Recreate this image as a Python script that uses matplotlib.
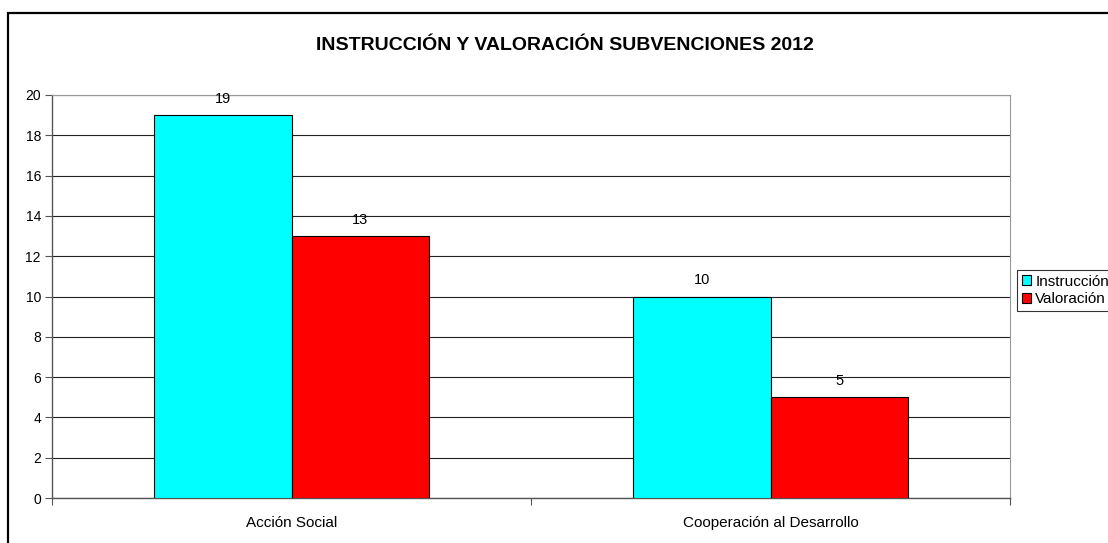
import matplotlib
matplotlib.use("Agg")
import matplotlib.pyplot as plt
import numpy as np
from matplotlib.patches import Rectangle

plt.rcParams['font.family'] = ['Liberation Sans', 'DejaVu Sans']

categories = ["Acción Social", "Cooperación al Desarrollo"]
series_names = ["Instrucción", "Valoración"]
instruccion = [19, 10]
valoracion = [13, 5]
colors = ["#00FFFF", "#FF0000"]
title = "INSTRUCCIÓN Y VALORACIÓN SUBVENCIONES 2012"

fig = plt.figure(figsize=(11.08, 5.43), dpi=100)
# outer chart frame
fig.patches.append(Rectangle((8/1108, -0.05), 1.2, 1 - 13/543 + 0.05,
                             transform=fig.transFigure, fill=False,
                             edgecolor='black', linewidth=1.6))

ax = fig.add_axes([52/1108, 1 - 498/543, (1010 - 52)/1108, (498 - 95)/543])
x = np.arange(len(categories))
w = 0.287
b1 = ax.bar(x - w/2, instruccion, w, color=colors[0], edgecolor='black', linewidth=0.8,
            label=series_names[0], zorder=3)
b2 = ax.bar(x + w/2, valoracion, w, color=colors[1], edgecolor='black', linewidth=0.8,
            label=series_names[1], zorder=3)
for bars, vals in ((b1, instruccion), (b2, valoracion)):
    for r, v in zip(bars, vals):
        ax.text(r.get_x() + r.get_width()/2, v + 0.45, str(v), ha='center', va='bottom',
                fontsize=10.5)

ax.set_xlim(-0.5, 1.5)
ax.set_ylim(0, 20)
ax.set_yticks(np.arange(0, 21, 2))
ax.set_xticks([-0.5, 0.5, 1.5])
ax.set_xticklabels([])
ax.set_xticks(x, minor=True)
ax.set_xticklabels(categories, minor=True, fontsize=11)
ax.tick_params(axis='x', which='minor', length=0, pad=13)
ax.tick_params(axis='x', which='major', length=5, color='#555555', direction='out')
ax.tick_params(axis='y', length=5, color='#555555', direction='out', labelsize=10, pad=3)
ax.yaxis.grid(True, color='#222222', linewidth=0.8, zorder=0)
ax.set_axisbelow(True)
for s in ['top', 'right']:
    ax.spines[s].set_color('#999999')
    ax.spines[s].set_linewidth(0.8)
for s in ['left', 'bottom']:
    ax.spines[s].set_color('#555555')
    ax.spines[s].set_linewidth(1.0)

fig.text(565/1108, 1 - 45/543, title, ha='center', va='center', fontsize=14,
         fontweight='bold')

leg = fig.legend(handles=[b1, b2], labels=series_names, loc='upper left',
                 bbox_to_anchor=(1017/1108, 1 - 270/543), fontsize=11,
                 frameon=True, fancybox=False, edgecolor='black',
                 handlelength=0.6, handleheight=0.6, handletextpad=0.3,
                 borderpad=0.3, labelspacing=0.25, borderaxespad=0)
leg.get_frame().set_linewidth(0.8)

fig.savefig("out.png", dpi=100, facecolor='white')
